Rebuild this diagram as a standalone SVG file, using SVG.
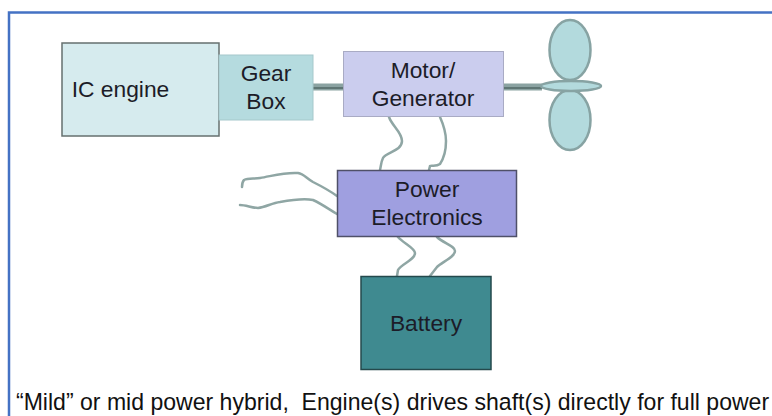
<svg xmlns="http://www.w3.org/2000/svg" width="772" height="416" viewBox="0 0 772 416">
<style>
text{font-family:"Liberation Sans",Arial,sans-serif;fill:#1c1c28;font-size:22.800px;text-anchor:middle}
.wire{fill:none;stroke:#8fa6a4;stroke-width:2.500;stroke-linejoin:round;stroke-linecap:round}
.shaft{fill:none;stroke:#8ba3a2;stroke-width:7}
.shaft2{fill:none;stroke:#5f7674;stroke-width:2}
.blade{fill:#b3dadd;stroke:#87a3a3;stroke-width:2.500}
</style>
<rect width="772" height="416" fill="#fff"/>
<path d="M772 12.500H9V416" fill="none" stroke="#4472c4" stroke-width="2.500"/>
<g id="connectors">
<path class="shaft" d="M312 87H344M503 87H542"/>
<path class="shaft2" d="M312 88H344M503 88H542"/>
<path class="wire" d="M389 117C392 126 402 132 402 141C402 151 386 152 383 158C381 162 381 166 380 170"/>
<path class="wire" d="M440 117C444 126 446 134 446 141C446 150 444 158 440 164C436 167 431 165 430 166L429 170"/>
<path class="wire" d="M337 196C330 191 321 186 313 182C306 178 304 174 298 173C285 172 272 176 260 178C254 179 248 178 244 180C242 182 242 185 242 187"/>
<path class="wire" d="M337 214C330 210 322 204 313 200C303 198 291 200 280 202C272 203 266 207 258 208C252 208 246 205 240 205"/>
<path class="wire" d="M398 237C403 243 415 248 415 253C415 260 401 264 398 270L397 276"/>
<path class="wire" d="M437 237C443 243 455 246 455 251C455 257 442 262 437 267L430 276"/>
</g>
<g id="ic-engine">
<rect x="62" y="43" width="157" height="93" fill="#d6ebee" stroke="#66706f" stroke-width="1.500"/>
<text x="120.500" y="97">IC engine</text>
</g>
<g id="gear-box">
<rect x="219" y="55" width="94" height="65" fill="#b5dbdf" stroke="#a5c8cb"/>
<text x="266" y="81">Gear</text>
<text x="266" y="109">Box</text>
</g>
<g id="motor-generator">
<rect x="343.500" y="51.500" width="160" height="65" fill="#cbcdee" stroke="#a9abc4"/>
<text x="423" y="78">Motor/</text>
<text x="423" y="106">Generator</text>
</g>
<g id="propeller">
<ellipse class="blade" cx="570" cy="50" rx="20.500" ry="30"/>
<ellipse class="blade" cx="570" cy="120" rx="20.500" ry="30"/>
<ellipse class="blade" cx="571" cy="86" rx="30" ry="5"/>
</g>
<g id="power-electronics">
<rect x="337.500" y="170.500" width="179" height="66" fill="#9f9fe0" stroke="#4f5068" stroke-width="1.500"/>
<text x="427" y="197">Power</text>
<text x="427" y="225">Electronics</text>
</g>
<g id="battery">
<rect x="361" y="276.500" width="130" height="93" fill="#3f8a90" stroke="#24494c" stroke-width="1.500"/>
<text x="426" y="331">Battery</text>
</g>
<text id="caption" x="16" y="410" style="text-anchor:start;fill:#111;font-size:23.050px;white-space:pre">“Mild” or mid power hybrid,  Engine(s) drives shaft(s) directly for full power</text>
</svg>
